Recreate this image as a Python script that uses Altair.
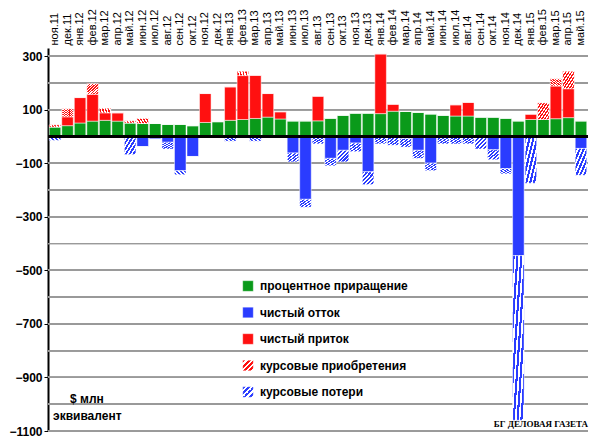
import altair as alt
import pandas as pd

months = [
    "ноя.11", "дек.11", "янв.12", "фев.12", "мар.12", "апр.12", "май.12", "июн.12", "июл.12",
    "авг.12", "сен.12", "окт.12", "ноя.12", "дек.12", "янв.13", "фев.13", "мар.13", "апр.13",
    "май.13", "июн.13", "июл.13", "авг.13", "сен.13", "окт.13", "ноя.13", "дек.13", "янв.14",
    "фев.14", "мар.14", "апр.14", "май.14", "июн.14", "июл.14", "авг.14", "сен.14", "окт.14",
    "ноя.14", "дек.14", "янв.15", "фев.15", "мар.15", "апр.15", "май.15",
]
interest = [35, 40, 50, 57, 60, 57, 50, 48, 48, 45, 45, 40, 52, 55, 60, 63, 67, 72, 65, 58,
            58, 58, 68, 79, 87, 87, 85, 94, 93, 90, 84, 79, 76, 76, 72, 72, 68, 58, 63, 63,
            66, 70, 58]
inflow = [0, 33, 95, 100, 28, 31, 0, 0, 0, 0, 0, 0, 108, 0, 125, 164, 161, 88, 27, 0,
          0, 92, 0, 0, 0, 0, 223, 26, 0, 0, 0, 0, 42, 51, 0, 0, 0, 0, 20, 0,
          122, 108, 0]
fx_gain = [8, 30, 0, 40, 17, 0, 8, 19, 0, 0, 0, 0, 0, 0, 0, 16, 0, 0, 0, 0,
           0, 0, 0, 0, 0, 0, 0, 0, 0, 0, 0, 0, 0, 0, 0, 0, 0, 0, 0, 62,
           27, 65, 0]
outflow = [0, 0, 0, 0, 0, 0, 0, 38, 10, 22, 128, 75, 0, 0, 0, 0, 0, 0, 0, 62,
           235, 0, 82, 52, 25, 132, 0, 0, 8, 52, 100, 0, 0, 0, 0, 50, 120, 445, 0, 0,
           0, 0, 45]
fx_loss = [15, 0, 0, 0, 0, 0, 68, 0, 0, 25, 15, 0, 0, 0, 18, 0, 18, 0, 0, 33,
           30, 28, 28, 43, 32, 48, 28, 33, 32, 30, 28, 28, 28, 28, 47, 37, 20, 615, 175, 0,
           0, 0, 100]
y_ticks = [-1100, -1000, -900, -800, -700, -600, -500, -400, -300, -200, -100,
           0, 100, 200, 300]
legend_labels = ["процентное приращение", "чистый отток", "чистый приток",
                 "курсовые приобретения", "курсовые потери"]

GREEN, BLUE, RED = "#0a9a1a", "#2a3cff", "#ff1010"


def stripes(color, n=8):
    stops = []
    for i in range(n):
        a, b = i / n, (i + 0.55) / n
        stops += [{"offset": a, "color": color}, {"offset": b, "color": color},
                  {"offset": b, "color": "white"}, {"offset": (i + 1) / n, "color": "white"}]
    return {"gradient": "linear", "x1": 0, "y1": 0, "x2": 1, "y2": 1, "stops": stops}


df = pd.DataFrame({"m": months, "g": interest, "r": inflow, "h": fx_gain,
                   "b": outflow, "l": fx_loss})
df["g_top"] = df.g
df["r_top"] = df.g + df.r
df["h_top"] = df.r_top + df.h
df["b_bot"] = -df.b
df["l_bot"] = df.b_bot - df.l
df["zero"] = 0

x = alt.X("m:N", sort=months, title=None,
          scale=alt.Scale(paddingInner=0.08, paddingOuter=0.1),
          axis=alt.Axis(orient="top", labelAngle=270, labelFontSize=11, labelFont="Arial",
                        ticks=False, domain=False, labelPadding=3, labelColor="black"))
yscale = alt.Scale(domain=[-1100, 330], nice=False)
y_axis = alt.Axis(values=y_ticks, format="d", labelOverlap=False, grid=False,
                  labelFontSize=12, labelFontWeight="bold",
                  labelFont="Arial", labelColor="black",
                  domainColor="black", domainWidth=2, tickColor="black", tickSize=4)

base = alt.Chart(df)


def bars(lo, hi, fill):
    y = alt.Y(f"{hi}:Q", scale=yscale, title=None, axis=y_axis)
    return base.mark_bar(fill=fill, opacity=1, stroke="white", strokeWidth=0.5).encode(
        x=x, y=y, y2=f"{lo}:Q")


grid_layers = [
    base.mark_rule(color="#9a9a9a", strokeWidth=1).encode(y=alt.datum(v))
    for v in y_ticks if v != 0
]

chart = alt.layer(
    *grid_layers,
    bars("zero", "g_top", GREEN),
    bars("g_top", "r_top", RED),
    bars("r_top", "h_top", stripes(RED)),
    bars("zero", "b_bot", BLUE),
    bars("b_bot", "l_bot", stripes(BLUE, 6)),
    base.mark_rule(color="black", strokeWidth=2).encode(
        y=alt.Y("zero:Q", scale=yscale, title=None, axis=y_axis)),
)

fills = [GREEN, BLUE, RED, stripes(RED, 4), stripes(BLUE, 4)]
leg_layers = []
for i, (lab, f) in enumerate(zip(legend_labels, fills)):
    d = alt.Chart(pd.DataFrame({"label": [lab]}))
    yy = 238 + i * 26.5
    leg_layers.append(d.mark_square(size=110, fill=f, opacity=1, stroke="white", strokeWidth=0.3)
                      .encode(x=alt.value(200), y=alt.value(yy)))
    leg_layers.append(d.mark_text(align="left", baseline="middle", fontSize=12,
                                  fontWeight="bold", font="Arial")
                      .encode(x=alt.value(212), y=alt.value(yy), text="label:N"))

note_layers = [
    alt.Chart(pd.DataFrame({"t": ["$ млн"]})).mark_text(
        align="left", baseline="middle", fontSize=12, fontWeight="bold", font="Arial")
    .encode(x=alt.value(22), y=alt.value(351), text="t:N"),
    alt.Chart(pd.DataFrame({"t": ["эквивалент"]})).mark_text(
        align="left", baseline="middle", fontSize=12, fontWeight="bold", font="Arial")
    .encode(x=alt.value(5), y=alt.value(368), text="t:N"),
    alt.Chart(pd.DataFrame({"t": ["БГ ДЕЛОВАЯ ГАЗЕТА"]})).mark_text(
        align="right", baseline="bottom", fontSize=9, fontWeight="bold", font="Liberation Serif")
    .encode(x=alt.value(540), y=alt.value(381), text="t:N"),
]

final = (
    alt.layer(chart, *leg_layers, *note_layers)
    .properties(width=540, height=383, padding={"top": 0, "left": 0, "right": 0, "bottom": 0})
    .configure_view(stroke=None)
    .configure_axisY(labelOverlap=False)
)
final.save("out.html", embed_options={"renderer": "svg", "actions": False})
